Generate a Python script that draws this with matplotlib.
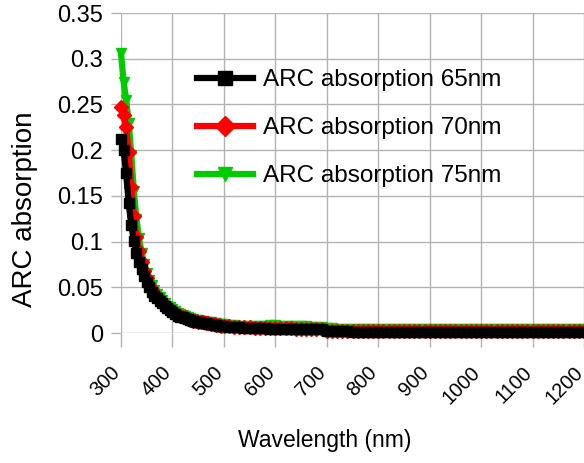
import numpy as np
import matplotlib
matplotlib.use("Agg")
import matplotlib.pyplot as plt
from matplotlib.ticker import FuncFormatter

plt.rcParams['font.family'] = ['Liberation Sans', 'DejaVu Sans']

# wavelength grid: 5 nm steps on the steep part, 10 nm steps on the tail
wl_steep = np.arange(300, 500, 5)
wl_tail = np.arange(500, 1201, 10)
wavelength = np.concatenate([wl_steep, wl_tail])

abs65_steep = [0.212, 0.200, 0.175, 0.142, 0.118, 0.101, 0.088, 0.078, 0.070, 0.062,
               0.056, 0.050, 0.045, 0.041, 0.038, 0.035, 0.033, 0.030, 0.027, 0.025,
               0.023, 0.021, 0.019, 0.018, 0.017, 0.016, 0.015, 0.014, 0.013, 0.0125,
               0.012, 0.0115, 0.011, 0.0105, 0.010, 0.0095, 0.009, 0.0085, 0.008, 0.0078]
abs65_tail = [0.0075, 0.0070, 0.0066, 0.0062, 0.0060, 0.0057, 0.0054, 0.0052, 0.0050, 0.0049,
              0.0048, 0.0047, 0.0046, 0.0045, 0.0045, 0.0044, 0.0044, 0.0043, 0.0043, 0.0042,
              0.0018, 0.0018, 0.0017, 0.0017, 0.0017, 0.0016, 0.0016, 0.0016, 0.0016, 0.0015,
              0.0015, 0.0015, 0.0015, 0.0014, 0.0014, 0.0014, 0.0014, 0.0014, 0.0013, 0.0013,
              0.0013, 0.0013, 0.0013, 0.0012, 0.0012, 0.0012, 0.0012, 0.0012, 0.0012, 0.0011,
              0.0011, 0.0011, 0.0011, 0.0011, 0.0011, 0.0011, 0.0010, 0.0010, 0.0010, 0.0010,
              0.0010, 0.0010, 0.0010, 0.0010, 0.0010, 0.0010, 0.0010, 0.0010, 0.0010, 0.0010,
              0.0010]

abs70_steep = [0.247, 0.238, 0.225, 0.198, 0.160, 0.128, 0.105, 0.090, 0.078, 0.068,
               0.060, 0.053, 0.048, 0.043, 0.040, 0.037, 0.034, 0.031, 0.028, 0.026,
               0.024, 0.022, 0.020, 0.019, 0.018, 0.017, 0.0155, 0.0145, 0.0135, 0.013,
               0.0125, 0.012, 0.0115, 0.011, 0.0105, 0.010, 0.0095, 0.009, 0.0085, 0.008]
abs70_tail = [0.0078, 0.0074, 0.0070, 0.0066, 0.0064, 0.0061, 0.0058, 0.0056, 0.0055, 0.0054,
              0.0053, 0.0052, 0.0051, 0.0050, 0.0049, 0.0048, 0.0048, 0.0047, 0.0047, 0.0046,
              0.0026, 0.0026, 0.0025, 0.0025, 0.0025, 0.0024, 0.0024, 0.0024, 0.0024, 0.0023,
              0.0023, 0.0023, 0.0023, 0.0022, 0.0022, 0.0022, 0.0022, 0.0022, 0.0021, 0.0021,
              0.0021, 0.0021, 0.0021, 0.0020, 0.0020, 0.0020, 0.0020, 0.0020, 0.0020, 0.0019,
              0.0019, 0.0019, 0.0019, 0.0019, 0.0019, 0.0019, 0.0018, 0.0018, 0.0018, 0.0018,
              0.0018, 0.0018, 0.0018, 0.0018, 0.0018, 0.0018, 0.0018, 0.0018, 0.0018, 0.0018,
              0.0018]

abs75_steep = [0.306, 0.275, 0.255, 0.230, 0.195, 0.155, 0.125, 0.104, 0.088, 0.076,
               0.066, 0.058, 0.052, 0.047, 0.043, 0.039, 0.036, 0.033, 0.030, 0.028,
               0.026, 0.024, 0.022, 0.021, 0.020, 0.019, 0.017, 0.016, 0.015, 0.0145,
               0.014, 0.0135, 0.013, 0.0125, 0.012, 0.0115, 0.011, 0.0105, 0.010, 0.0098]
abs75_tail = [0.0095, 0.0090, 0.0086, 0.0082, 0.0080, 0.0078, 0.0078, 0.0080, 0.0082, 0.0084,
              0.0084, 0.0082, 0.0080, 0.0078, 0.0076, 0.0074, 0.0072, 0.0070, 0.0068, 0.0066,
              0.0050, 0.0050, 0.0049, 0.0049, 0.0049, 0.0048, 0.0048, 0.0048, 0.0048, 0.0047,
              0.0047, 0.0047, 0.0047, 0.0046, 0.0046, 0.0046, 0.0046, 0.0046, 0.0045, 0.0045,
              0.0045, 0.0045, 0.0045, 0.0044, 0.0044, 0.0044, 0.0044, 0.0044, 0.0044, 0.0043,
              0.0043, 0.0043, 0.0043, 0.0043, 0.0043, 0.0043, 0.0042, 0.0042, 0.0042, 0.0042,
              0.0042, 0.0042, 0.0042, 0.0042, 0.0042, 0.0042, 0.0042, 0.0042, 0.0042, 0.0042,
              0.0042]

series = [
    ("ARC absorption 65nm", abs65_steep + abs65_tail, "#000000", "s"),
    ("ARC absorption 70nm", abs70_steep + abs70_tail, "#ff0000", "D"),
    ("ARC absorption 75nm", abs75_steep + abs75_tail, "#00cc00", "v"),
]

x_ticks = np.arange(300, 1201, 100)
y_ticks = np.arange(0, 0.351, 0.05)

fig = plt.figure(figsize=(5.84, 4.63), dpi=100)
ax = fig.add_axes([121 / 584, 130 / 463, 463 / 584, 320 / 463])

# black drawn last so it sits on top, legend keeps 65/70/75 order
handles = {}
for label, vals, color, marker in reversed(series):
    ln, = ax.plot(wavelength, vals, color=color, lw=4.5, marker=marker, ms=7,
                  mec=color, mfc=color, clip_on=False, label=label, zorder=3)
    handles[label] = ln

ax.set_xlim(300, 1200)
ax.set_ylim(0, 0.35)
ax.set_xticks(x_ticks)
ax.set_yticks(y_ticks)
ax.yaxis.set_major_formatter(FuncFormatter(lambda v, p: "{:g}".format(round(v, 2))))
ax.grid(True, color="#b3b3b3", lw=1.0, zorder=0)
ax.set_axisbelow(True)
for s in ax.spines.values():
    s.set_visible(False)

ax.tick_params(axis="x", length=10, width=1.0, color="#b3b3b3", pad=19, labelsize=14.5)
ax.tick_params(axis="y", length=7, width=1.0, color="#b3b3b3", pad=6, labelsize=17)
for t in ax.get_xticklabels():
    t.set_rotation(45)
    t.set_rotation_mode("anchor")
    t.set_ha("right")
    t.set_va("baseline")

ax.set_xlabel("Wavelength (nm)", fontsize=16.5)
ax.xaxis.set_label_coords((325 - 121) / 463, (463 - 440 - 130) / 320)
ax.xaxis.label.set_va("center")
ax.set_ylabel("ARC absorption", fontsize=20)
ax.yaxis.set_label_coords((25 - 121) / 463, (463 - 209 - 130) / 320)
ax.yaxis.label.set_va("center")

order = [s[0] for s in series]
ax.legend([handles[k] for k in order], order, loc="upper left",
          bbox_to_anchor=(197 / 584, 1 - 69 / 463), bbox_transform=fig.transFigure,
          frameon=False, fontsize=17.5, borderpad=0, borderaxespad=0,
          handlelength=2.3, handletextpad=0.4, labelspacing=1.07, markerscale=1.4)

fig.savefig("out.png", dpi=100)
